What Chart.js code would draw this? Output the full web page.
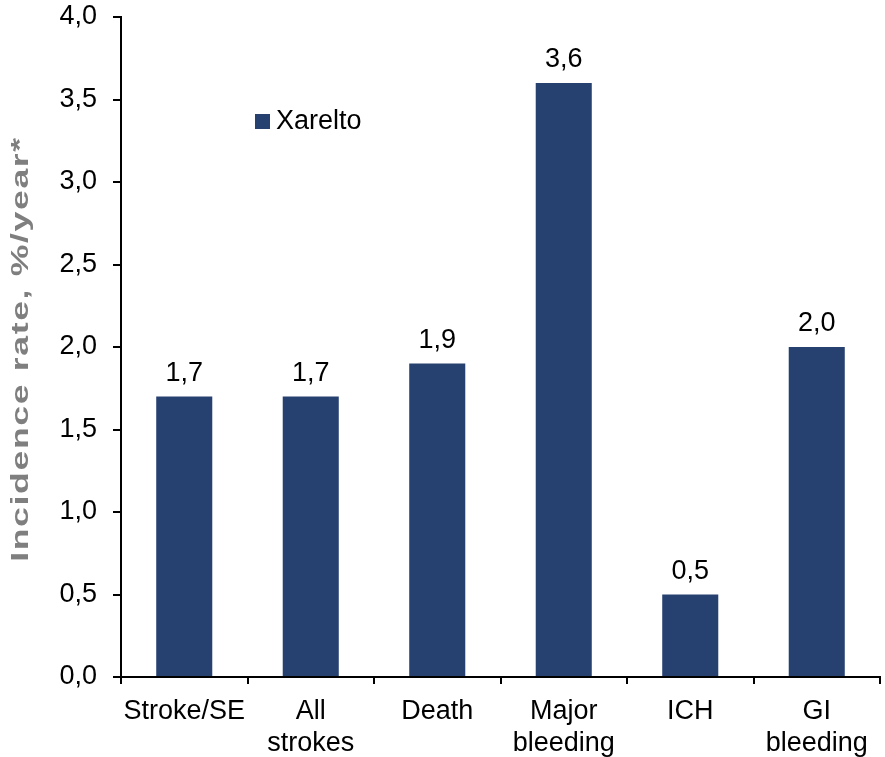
<!DOCTYPE html>
<html>
<head>
<meta charset="utf-8">
<title>Incidence rate</title>
<script src="https://cdn.jsdelivr.net/npm/chart.js@4/dist/chart.umd.min.js"></script>
<style>
  html, body { margin: 0; padding: 0; background: #ffffff; }
  #wrap { width: 885px; height: 757px; }
</style>
</head>
<body>
<div id="wrap"><canvas id="chart" width="885" height="757"></canvas></div>
<script>
// Categories (multi-line labels) and yearly incidence rates
const categories = [['Stroke/SE'], ['All', 'strokes'], ['Death'], ['Major', 'bleeding'], ['ICH'], ['GI', 'bleeding']];
const seriesName = 'Xarelto';
const xareltoRates = [1.7, 1.7, 1.9, 3.6, 0.5, 2.0];
const yAxisTitle = 'Incidence rate, %/year*';
const yMin = 0, yMax = 4, yStep = 0.5;

const BAR_COLOR = '#264070';
const FONT = '"Liberation Sans", Arial, sans-serif';
const fmt = v => v.toFixed(1).replace('.', ',');

// Value labels above each bar
const valueLabels = {
  id: 'valueLabels',
  afterDatasetsDraw(chart) {
    const ctx = chart.ctx;
    ctx.save();
    ctx.font = '27px ' + FONT;
    ctx.fillStyle = '#000000';
    ctx.textAlign = 'center';
    ctx.textBaseline = 'alphabetic';
    chart.getDatasetMeta(0).data.forEach((bar, i) => {
      ctx.fillText(fmt(chart.data.datasets[0].data[i]), bar.x, bar.y - 16);
    });
    ctx.restore();
  }
};

// Legend box inside the plot area
const insideLegend = {
  id: 'insideLegend',
  afterDraw(chart) {
    const ctx = chart.ctx;
    const ds = chart.data.datasets[0];
    ctx.save();
    ctx.fillStyle = ds.backgroundColor;
    ctx.fillRect(255, 114, 15, 15);
    ctx.font = '27px ' + FONT;
    ctx.fillStyle = '#000000';
    ctx.textAlign = 'left';
    ctx.textBaseline = 'middle';
    ctx.fillText(ds.label, 276, 122);
    ctx.restore();
  }
};

// Wide, bold grey y-axis title
const yTitle = {
  id: 'yTitle',
  afterDraw(chart) {
    const ctx = chart.ctx;
    ctx.save();
    ctx.font = 'bold 23px ' + FONT;
    ctx.fillStyle = '#7f7f7f';
    ctx.textAlign = 'center';
    ctx.textBaseline = 'middle';
    ctx.translate(22, 349);
    ctx.rotate(-Math.PI / 2);
    const stretch = 1.55;
    const target = 424;
    const natural = ctx.measureText(yAxisTitle).width * stretch;
    const gaps = yAxisTitle.length - 1;
    ctx.letterSpacing = Math.max(0, (target - natural) / gaps / stretch) + 'px';
    ctx.scale(stretch, 1);
    ctx.fillText(yAxisTitle, 0, 0);
    ctx.restore();
  }
};

new Chart(document.getElementById('chart'), {
  type: 'bar',
  data: {
    labels: categories,
    datasets: [{
      label: seriesName,
      data: xareltoRates,
      backgroundColor: BAR_COLOR,
      borderWidth: 0,
      barPercentage: 0.443,
      categoryPercentage: 1.0
    }]
  },
  options: {
    responsive: false,
    devicePixelRatio: 1,
    animation: false,
    layout: { padding: { top: 17, right: 5, left: 0, bottom: 0 } },
    plugins: {
      legend: { display: false },
      tooltip: { enabled: false }
    },
    scales: {
      x: {
        grid: {
          offset: true,
          drawOnChartArea: false,
          drawTicks: true,
          tickLength: 7,
          color: '#000000',
          lineWidth: 2
        },
        border: { display: true, color: '#000000', width: 2 },
        ticks: {
          color: '#000000',
          font: { family: FONT, size: 27, lineHeight: 1.2 },
          padding: 11,
          maxRotation: 0,
          autoSkip: false
        },
        afterFit(scale) {
          scale.height = 80;
          scale.paddingLeft = 0;
          scale.paddingRight = 0;
        }
      },
      y: {
        min: yMin,
        max: yMax,
        grid: {
          drawOnChartArea: false,
          drawTicks: true,
          tickLength: 8,
          color: '#000000',
          lineWidth: 2
        },
        border: { display: true, color: '#000000', width: 2 },
        ticks: {
          stepSize: yStep,
          color: '#000000',
          font: { family: FONT, size: 27 },
          padding: 16,
          callback: v => fmt(v)
        },
        afterFit(scale) {
          scale.width = 121;
          scale.paddingTop = 0;
          scale.paddingBottom = 0;
        }
      }
    }
  },
  plugins: [valueLabels, insideLegend, yTitle]
});
</script>
</body>
</html>
